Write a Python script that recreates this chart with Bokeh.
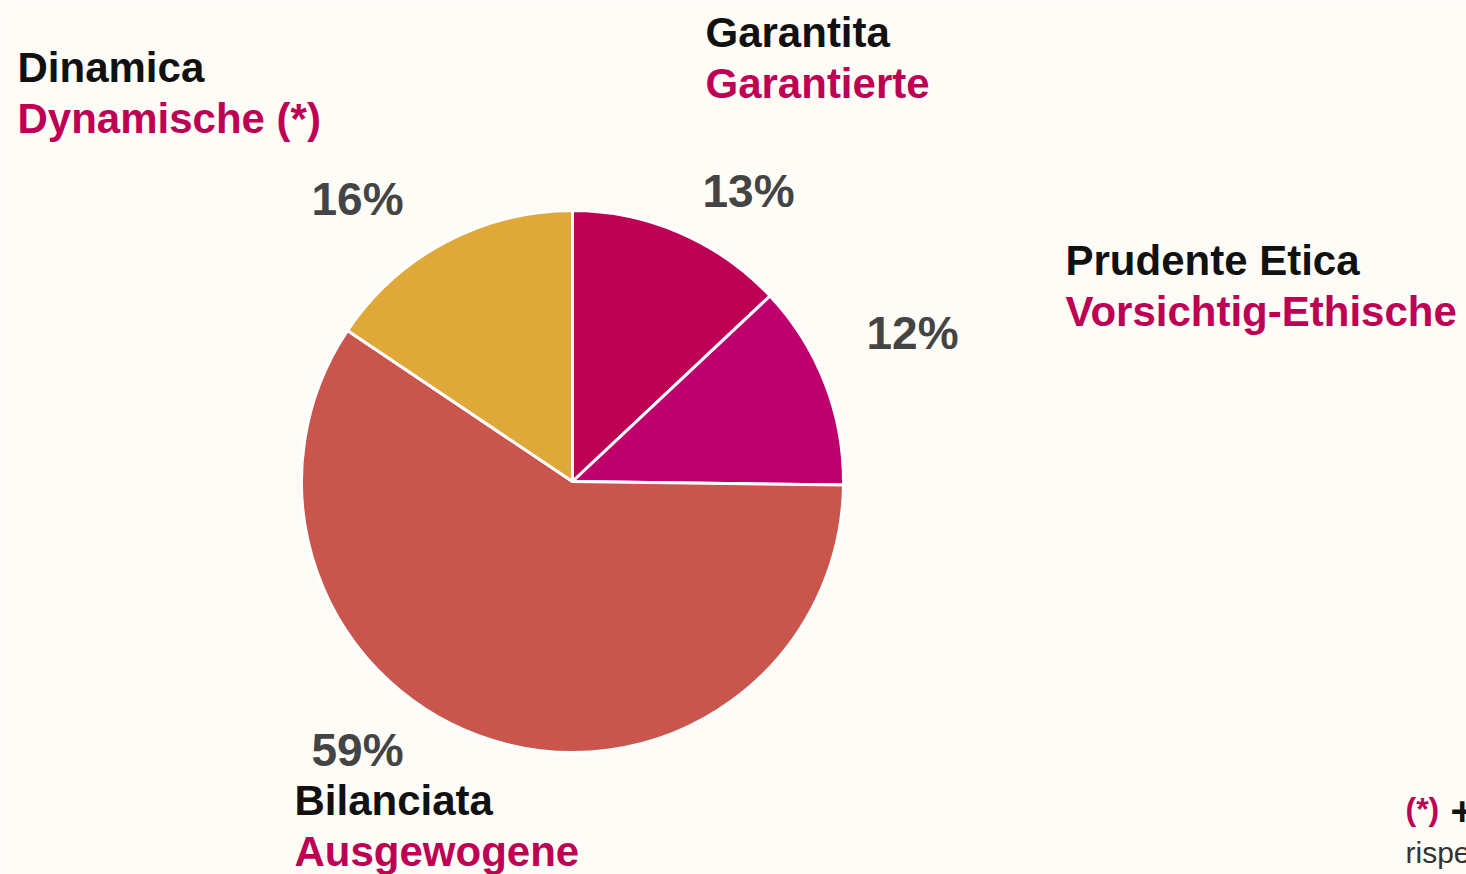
from bokeh.plotting import figure
from bokeh.models import Range1d, ColumnDataSource
from bokeh.core.properties import value
from bokeh.embed import file_html
from bokeh.resources import INLINE
import math

# ---- data ----
categories_it = ["Garantita", "Prudente Etica", "Bilanciata", "Dinamica"]
categories_de = ["Garantierte", "Vorsichtig-Ethische", "Ausgewogene", "Dynamische (*)"]
shares = [13.0, 12.2, 59.2, 15.6]
colors = ["#BE0055", "#BF006C", "#C9554C", "#DFA93A"]

# ---- layout ----
W, H = 1466, 874
BG = "#FDFCF7"
MAGENTA = "#BE0055"
cx, cy, R = 572, 481, 271

def Y(py):
    return H - py

p = figure(width=W, height=H, x_range=Range1d(0, W), y_range=Range1d(0, H),
           output_backend="svg", toolbar_location=None, min_border=0)
p.axis.visible = False
p.grid.visible = False
p.outline_line_color = None
p.background_fill_color = BG
p.border_fill_color = BG

# wedges, clockwise from 12 o'clock
total = sum(shares)
starts, ends = [], []
acc = 0.0
for s in shares:
    a0 = math.pi / 2 - 2 * math.pi * acc / total
    acc += s
    a1 = math.pi / 2 - 2 * math.pi * acc / total
    starts.append(a0)
    ends.append(a1)

src = ColumnDataSource(dict(start=starts, end=ends, color=colors))
p.wedge(x=cx, y=Y(cy), radius=R, start_angle="start", end_angle="end",
        direction="clock", fill_color="color", line_color="white",
        line_width=3, source=src)

# label layout (pixel positions: left x, baseline y)
name_pos = [(705, 32), (1065, 260), (294, 800), (17, 67)]
pct_pos = [(702, 190), (866, 332), (311, 749), (311, 198)]
line_gap = 51

font = value("Liberation Sans")
pct_labels = [f"{round(s)}%" for s in shares]

p.text(x=[q[0] for q in name_pos], y=[Y(q[1]) for q in name_pos], text=categories_it,
       text_font=font, text_font_style="bold", text_font_size="42px",
       text_color="#111111", text_baseline="alphabetic", text_align="left")
p.text(x=[q[0] for q in name_pos], y=[Y(q[1] + line_gap) for q in name_pos], text=categories_de,
       text_font=font, text_font_style="bold", text_font_size="42px",
       text_color=MAGENTA, text_baseline="alphabetic", text_align="left")
p.text(x=[q[0] for q in pct_pos], y=[Y(q[1]) for q in pct_pos], text=pct_labels,
       text_font=font, text_font_style="bold", text_font_size="46px",
       text_color="#444444", text_baseline="alphabetic", text_align="left")

# footnote (partially outside the window, as in the reference)
p.text(x=[1405], y=[Y(808)], text=["(*)"], text_font=font, text_font_style="bold",
       text_font_size="32px", text_color=MAGENTA, text_baseline="alphabetic")
p.text(x=[1450], y=[Y(810)], text=["+"], text_font=font, text_font_style="bold",
       text_font_size="40px", text_color="#111111", text_baseline="alphabetic")
p.text(x=[1405], y=[Y(852)], text=["rispetto"], text_font=font,
       text_font_size="30px", text_color="#333333", text_baseline="alphabetic")

open("out.html", "w").write(file_html(p, INLINE))
